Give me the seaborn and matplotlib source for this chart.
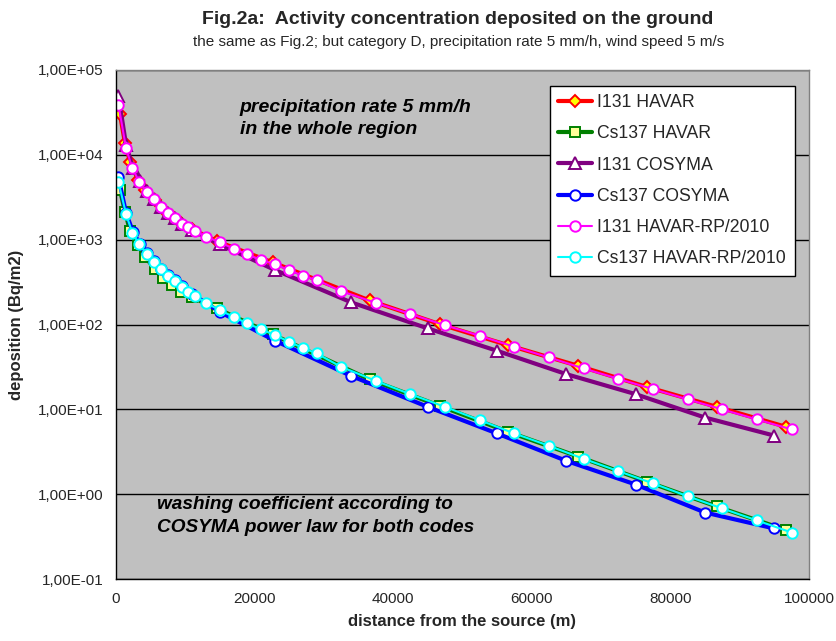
import numpy as np
import pandas as pd
import matplotlib
matplotlib.use("Agg")
import matplotlib.pyplot as plt
import matplotlib.ticker as mticker
import seaborn as sns

# ── Data (distance in m, deposition in Bq/m2) ────────────────────────────────

havar_x = [620, 1340, 2070, 3270, 4230, 5670, 6880, 8080, 9390, 10970,
           14580, 22620, 36620, 46730, 56600, 66700, 76680, 86690, 96750]
i131_havar = [30000, 13700, 8300, 5000, 3800, 2900, 2280, 1880, 1570, 1340,
              960, 540, 192, 101, 57, 32.6, 18.3, 10.7, 6.2]
cs137_havar = [3850, 2130, 1270, 862, 630, 447, 350, 292, 243, 209,
               155, 76.4, 22.5, 11.0, 5.43, 2.78, 1.40, 0.716, 0.376]

cosyma_x = [400, 1500, 2500, 3500, 4500, 5500, 6500, 7500, 8500, 9500,
            11000, 15000, 23000, 34000, 45000, 55000, 65000, 75000, 85000, 95000]
i131_cosyma = [49300, 13000, 7000, 4900, 3700, 3000, 2450, 2050, 1780, 1540,
               1300, 880, 438, 182, 90, 49, 26, 15.1, 8.0, 4.9]
cs137_cosyma = [5430, 2050, 1230, 890, 690, 560, 455, 385, 335, 285,
                230, 141, 64.3, 24.7, 10.7, 5.2, 2.47, 1.30, 0.608, 0.394]

rp_x = [400, 1500, 2400, 3400, 4500, 5500, 6500, 7500, 8500, 9500, 10500,
        11500, 13000, 15000, 17000, 19000, 21000, 23000, 25000, 27000, 29000,
        32500, 37500, 42500, 47500, 52500, 57500, 62500, 67500, 72500, 77500,
        82500, 87500, 92500, 97500]
i131_rp = [38600, 11900, 6930, 4820, 3670, 2990, 2440, 2040, 1800, 1550, 1400,
           1270, 1080, 938, 782, 670, 575, 512, 438, 375, 334,
           248, 180, 133, 98, 73.6, 54.6, 40.9, 30.3, 22.9, 17.3,
           13.1, 9.98, 7.6, 5.8]
cs137_rp = [4820, 1990, 1205, 880, 676, 550, 447, 375, 327, 278, 239,
            216, 180, 148, 123, 103, 87.5, 75, 62.5, 53, 45.6,
            31.7, 21.7, 15.1, 10.7, 7.46, 5.2, 3.72, 2.61, 1.87, 1.34,
            0.946, 0.678, 0.49, 0.353]

x_ticks = [0, 20000, 40000, 60000, 80000, 100000]
y_ticks = [1e-1, 1e0, 1e1, 1e2, 1e3, 1e4, 1e5]

# (label, x, y, colour, line width, marker, marker face, marker size)
SERIES = [
    ("I131 HAVAR", havar_x, i131_havar, "#FF0000", 3.0, "D", "#FFFF00", 6.5),
    ("Cs137 HAVAR", havar_x, cs137_havar, "#008000", 3.0, "s", "#FFFF99", 7.5),
    ("I131 COSYMA", cosyma_x, i131_cosyma, "#800080", 3.0, "^", "#FFFFFF", 8.5),
    ("Cs137 COSYMA", cosyma_x, cs137_cosyma, "#0000FF", 3.0, "o", "#FFFFFF", 7.5),
    ("I131 HAVAR-RP/2010", rp_x, i131_rp, "#FF00FF", 1.5, "o", "#FFFFFF", 7.5),
    ("Cs137 HAVAR-RP/2010", rp_x, cs137_rp, "#00FFFF", 1.5, "o", "#FFFFFF", 7.5),
]

sns.set_style("white")
plt.rcParams["font.family"] = ["Liberation Sans", "DejaVu Sans"]

fig = plt.figure(figsize=(8.36, 6.41), dpi=100)
ax = fig.add_axes([0.1384, 0.0967, 0.8293, 0.7941])
ax.set_facecolor("#C0C0C0")

for label, xs, ys, col, lw, mk, mface, msize in SERIES:
    df = pd.DataFrame({"x": xs, "y": ys})
    sns.lineplot(data=df, x="x", y="y", ax=ax, color=col, linewidth=lw,
                 marker=mk, markersize=msize, markerfacecolor=mface,
                 markeredgecolor=col, markeredgewidth=1.4, label=label)

ax.set_yscale("log")
ax.set_xlim(0, 100000)
ax.set_ylim(1e-1, 1e5)
ax.set_xticks(x_ticks)
ax.set_xticklabels([str(t) for t in x_ticks], fontsize=11)
ax.set_yticks(y_ticks)
ax.set_yticklabels([f"{t:.2E}".replace(".", ",") for t in y_ticks], fontsize=11)
ax.yaxis.set_minor_locator(mticker.LogLocator(base=10, subs=np.arange(2, 10)))
ax.yaxis.set_minor_formatter(mticker.NullFormatter())
ax.tick_params(axis="both", which="major", direction="out", length=5,
               width=1, color="black", pad=4)
ax.tick_params(axis="y", which="minor", direction="out", length=3,
               width=0.8, color="black")
ax.yaxis.grid(True, which="major", color="black", linewidth=1)
ax.set_axisbelow(True)

for side in ["top", "right"]:
    ax.spines[side].set_color("#808080")
    ax.spines[side].set_linewidth(1)
for side in ["left", "bottom"]:
    ax.spines[side].set_color("black")
    ax.spines[side].set_linewidth(1)

ax.set_xlabel("distance from the source (m)", fontsize=12, fontweight="bold",
              labelpad=6)
ax.set_ylabel("deposition (Bq/m2)", fontsize=12, fontweight="bold",
              labelpad=10)

# Annotation texts inside the plot area
ax.text(0.179, 0.944, "precipitation rate 5 mm/h\nin the whole region",
        transform=ax.transAxes, fontsize=14, fontweight="bold",
        fontstyle="italic", va="top", ha="left", linespacing=1.45,
        color="black")
ax.text(0.0597, 0.164, "washing coefficient according to\nCOSYMA power law for both codes",
        transform=ax.transAxes, fontsize=13.7, fontweight="bold",
        fontstyle="italic", va="top", ha="left", linespacing=1.5,
        color="black")

leg = ax.legend(loc="upper right", bbox_to_anchor=(0.9795, 0.9695), fontsize=12.7,
                frameon=True, fancybox=False, edgecolor="black",
                facecolor="white", framealpha=1, handlelength=1.9,
                labelspacing=0.8, borderpad=0.5, handletextpad=0.3,
                borderaxespad=0)
leg.get_frame().set_linewidth(1)

fig.text(0.548, 0.97, "Fig.2a:  Activity concentration deposited on the ground",
         ha="center", va="center", fontsize=14, fontweight="bold")
fig.text(0.548, 0.935, "the same as Fig.2; but category D, precipitation rate 5 mm/h, wind speed 5 m/s",
         ha="center", va="center", fontsize=11)

fig.savefig("out.png", dpi=100)
